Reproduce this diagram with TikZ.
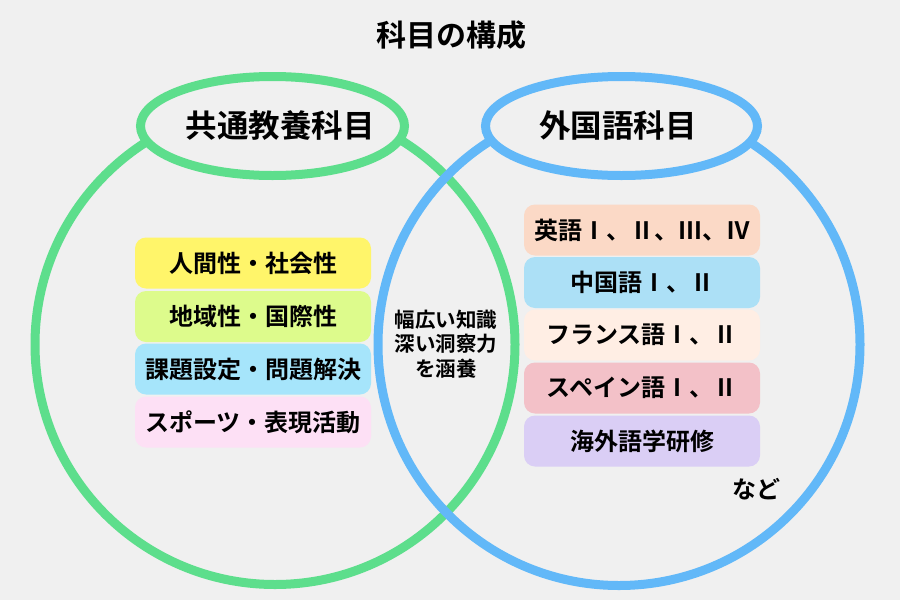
\documentclass[tikz,border=0pt]{standalone}
\usepackage{fontspec}
\setmainfont{Noto Sans CJK JP}[BoldFont={Noto Sans CJK JP Bold}]
\begin{document}
\begin{tikzpicture}[x=1pt,y=-1pt,
  lbox/.style={rounded corners=11pt, minimum width=236pt, minimum height=51pt, inner sep=0pt,
     font=\fontsize{24}{28}\selectfont\bfseries},
  hdr/.style={font=\fontsize{31.5}{34}\selectfont\bfseries},
  ring/.style={line width=9pt}]
\definecolor{bg}{HTML}{F0F0F0}
\definecolor{gr}{HTML}{5DDE8C}
\definecolor{bl}{HTML}{62B8F8}
\definecolor{c1}{HTML}{FFF56A}
\definecolor{c2}{HTML}{DDFB8C}
\definecolor{c3}{HTML}{A6E5FB}
\definecolor{c4}{HTML}{FDE0F5}
\definecolor{d1}{HTML}{FBD9C6}
\definecolor{d2}{HTML}{ACE0F6}
\definecolor{d3}{HTML}{FFEEE4}
\definecolor{d4}{HTML}{F3C1C8}
\definecolor{d5}{HTML}{DACEF5}
\fill[bg] (0,0) rectangle (900,600);
\useasboundingbox (0,0) rectangle (900,600);
\node[font=\fontsize{30}{34}\selectfont\bfseries] (title) at (451,35) {科目の構成};
% big circles
\draw[ring, gr] (275,344.5) circle[radius=240];
\draw[ring, bl] (619,344.5) circle[radius=241];
% header ellipses
\draw[ring, gr, fill=bg] (272.5,126) ellipse[x radius=132, y radius=49.5];
\draw[ring, bl, fill=bg] (621.5,126) ellipse[x radius=136, y radius=49.5];
\node[hdr] (h1) at (280,126) {共通教養科目};
\node[hdr] (h2) at (618,126) {外国語科目};
% left boxes
\node[lbox, fill=c1] (a1) at (253,263) {人間性・社会性};
\node[lbox, fill=c2] (a2) at (253,316.5) {地域性・国際性};
\node[lbox, fill=c3] (a3) at (253,369) {課題設定・問題解決};
\node[lbox, fill=c4] (a4) at (253,422) {スポーツ・表現活動};
% center text
\node[font=\fontsize{20.5}{24.5}\selectfont\bfseries, align=center] (mid) at (446,344) {幅広い知識\\深い洞察力\\を涵養};
% right boxes
\node[lbox, fill=d1] (b1) at (642,230) {英語Ⅰ、Ⅱ、Ⅲ、Ⅳ};
\node[lbox, fill=d2] (b2) at (642,282.5) {中国語Ⅰ、Ⅱ};
\node[lbox, fill=d3] (b3) at (642,335) {フランス語Ⅰ、Ⅱ};
\node[lbox, fill=d4] (b4) at (642,388) {スペイン語Ⅰ、Ⅱ};
\node[lbox, fill=d5] (b5) at (642,441) {海外語学研修};
\node[font=\fontsize{24}{28}\selectfont\bfseries] (etc) at (756,489) {など};
\end{tikzpicture}
\end{document}
